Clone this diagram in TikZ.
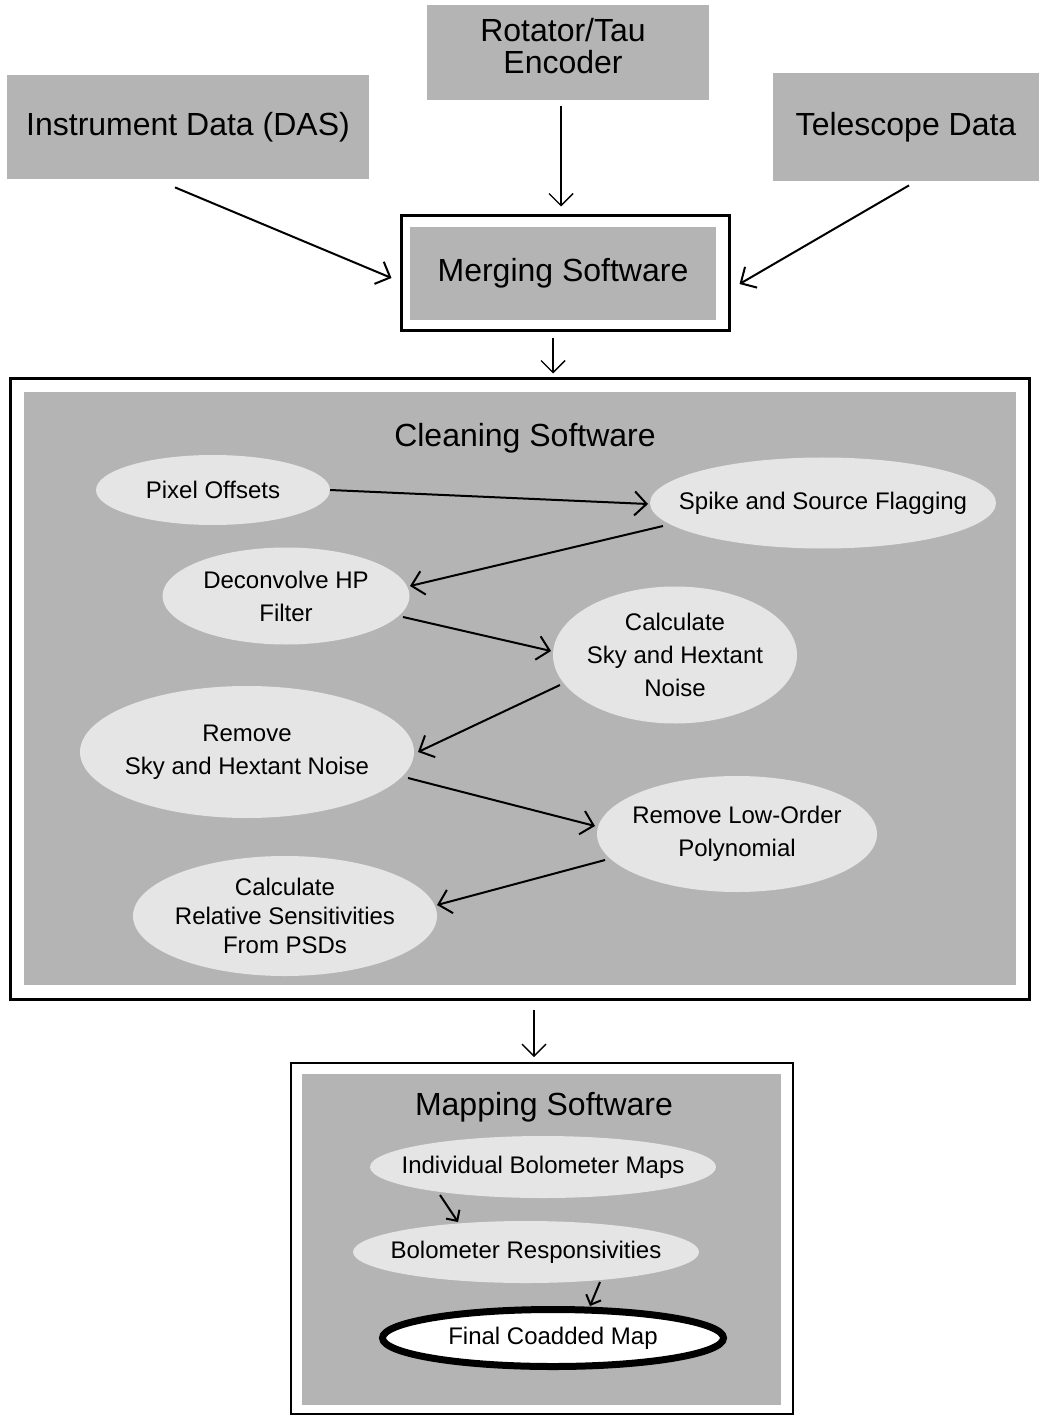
\documentclass[tikz,border=0pt]{standalone}
\usepackage{fontspec}
\setmainfont{Liberation Sans}
\usetikzlibrary{arrows.meta,shapes.geometric}
\definecolor{boxgray}{RGB}{180,180,180}
\definecolor{ellgray}{RGB}{229,229,229}
\begin{document}
\begin{tikzpicture}[x=0.5pt,y=-0.5pt,
  srcbox/.style={rectangle, fill=boxgray, inner sep=0pt, align=center, font=\fontsize{16}{16}\selectfont},
  frame/.style={rectangle, draw=black, line width=1.5pt, inner sep=0pt},
  ell/.style={ellipse, fill=ellgray, inner xsep=-12pt, inner ysep=0pt, align=center, font=\fontsize{12}{16.5}\selectfont},
  title/.style={font=\fontsize{16}{16}\selectfont, inner sep=0pt},
  flow/.style={-{Straight Barb[length=6pt,width=12pt]}, line width=1pt},
  thinflow/.style={-{Straight Barb[length=6pt,width=12pt]}, line width=0.7pt},
  smallflow/.style={-{Straight Barb[length=4pt,width=8pt]}, line width=1pt}]
\path[use as bounding box] (0,0) rectangle (1039,1416);

% top sources
\node[srcbox, minimum width=181pt, minimum height=52pt] (das) at (188,127) {Instrument Data (DAS)};
\node[srcbox, minimum width=141pt, minimum height=47.5pt] (rot) at (568,52.5) {};
\node[title, align=center, font=\fontsize{16}{16}\selectfont] (rottext) at (563,46) {Rotator/Tau\\Encoder};
\node[srcbox, minimum width=133pt, minimum height=54pt] (tel) at (906,127) {Telescope Data};

% merging
\node[frame, minimum width=164pt, minimum height=57.5pt] (mergeframe) at (565,273.5) {};
\node[srcbox, minimum width=153pt, minimum height=46.5pt] (merge) at (563,273.5) {Merging Software};

\draw[flow] ([shift={(-13,8)}]das.south) -- ([shift={(-8,4.5)}]mergeframe.west);
\draw[thinflow] ([shift={(-7,6)}]rot.south) -- ([shift={(-4,-8)}]mergeframe.north);
\draw[flow] ([shift={(3,4)}]tel.south) -- ([shift={(9,10.5)}]mergeframe.east);

% cleaning
\node[frame, minimum width=509.5pt, minimum height=310pt] (cleanframe) at (519.5,689) {};
\node[rectangle, fill=boxgray, inner sep=0pt, minimum width=496pt, minimum height=296.5pt] (clean) at (520,688.5) {};
\node[title] (cleantitle) at (525,438) {Cleaning Software};

\draw[thinflow] ([shift={(-12,6)}]mergeframe.south) -- ([shift={(33.5,-4)}]cleanframe.north);

\node[ell, minimum width=117pt, minimum height=35pt] (po) at (213,490) {Pixel Offsets};
\node[ell, minimum width=173pt, minimum height=45.5pt] (ssf) at (823,503) {Spike and Source Flagging};
\node[ell, minimum width=123.5pt, minimum height=48.5pt] (dhp) at (286,596) {Deconvolve HP\\Filter};
\node[ell, minimum width=122pt, minimum height=68.5pt] (cshn) at (675,655) {Calculate\\Sky and Hextant\\Noise};
\node[ell, minimum width=167pt, minimum height=66pt] (rshn) at (247,752) {Remove\\Sky and Hextant Noise};
\node[ell, minimum width=140pt, minimum height=58pt] (rlop) at (737,834) {Remove Low-Order\\Polynomial};
\node[ell, minimum width=152pt, minimum height=60pt, font=\fontsize{12}{14.5}\selectfont] (crs) at (285,916) {Calculate\\Relative Sensitivities\\From PSDs};

\draw[flow] ([shift={(117,0)}]po.center) -- ([shift={(-175,1)}]ssf.center);
\draw[flow] ([shift={(-160,23)}]ssf.center) -- ([shift={(124,-10)}]dhp.center);
\draw[flow] ([shift={(117,21)}]dhp.center) -- ([shift={(-124,-4)}]cshn.center);
\draw[flow] ([shift={(-115,30)}]cshn.center) -- ([shift={(171,0)}]rshn.center);
\draw[flow] ([shift={(161,26)}]rshn.center) -- ([shift={(-142,-8)}]rlop.center);
\draw[flow] ([shift={(-132,26)}]rlop.center) -- ([shift={(152,-11)}]crs.center);

% mapping
\node[rectangle, draw=black, line width=0.9pt, inner sep=0pt, minimum width=251pt, minimum height=175.5pt] (mapframe) at (542,1238.5) {};
\node[rectangle, fill=boxgray, inner sep=0pt, minimum width=239.5pt, minimum height=165.5pt] (map) at (541.5,1239.5) {};
\node[title] (maptitle) at (544,1107) {Mapping Software};

\draw[thinflow] ([shift={(14.5,9)}]cleanframe.south) -- ([shift={(-8,-5)}]mapframe.north);

\node[ell, minimum width=173pt, minimum height=31pt] (ibm) at (543,1167) {Individual Bolometer Maps};
\node[ell, minimum width=173pt, minimum height=31pt] (br) at (526,1252) {Bolometer Responsivities};
\node[ell, fill=white, draw=black, line width=3.5pt, minimum width=170.5pt, minimum height=28.5pt] (fcm) at (553,1338) {Final Coadded Map};

\draw[smallflow] ([shift={(-103,28)}]ibm.center) -- ([shift={(-68,-30)}]br.center);
\draw[smallflow] ([shift={(74,30)}]br.center) -- ([shift={(37,-32)}]fcm.center);
\end{tikzpicture}
\end{document}
